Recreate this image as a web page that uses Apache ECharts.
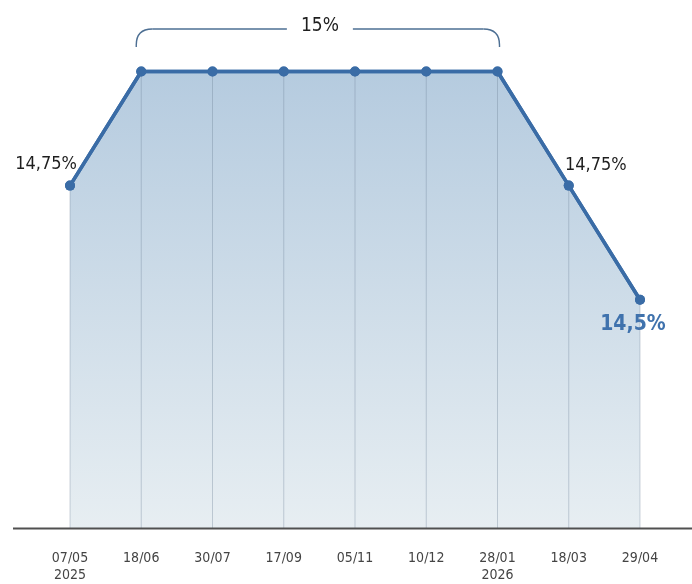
<!DOCTYPE html>
<html>
<head>
<meta charset="utf-8">
<script src="https://cdn.jsdelivr.net/npm/echarts@6/dist/echarts.min.js"></script>
<style>
    html, body { margin: 0; padding: 0; background: #fff; }
    #rateChart { width: 692px; height: 584px; }
</style>
</head>
<body>
<div id="rateChart"></div>
<script>
    const dates = ['07/05\n2025', '18/06', '30/07', '17/09', '05/11', '10/12', '28/01\n2026', '18/03', '29/04'];
    const rates = [14.75, 15, 15, 15, 15, 15, 15, 14.75, 14.5];
    const labelTexts = ['14,75%', '', '', '', '', '', '', '14,75%', '14,5%'];
    const bracketText = '15%';

    const font = '"Liberation Sans Narrow", "DejaVu Sans Condensed", "Roboto", sans-serif';
    const lineColor = '#3a6ca6';

    const chart = echarts.init(document.getElementById('rateChart'));

    // labels beside the points, each one placed a little differently
    const labelPos = {
        0: {position: 'top', offset: [-24, -2], color: '#1e1e1e', fontSize: 18},
        7: {position: 'top', offset: [27, -1], color: '#1e1e1e', fontSize: 18},
        8: {position: 'bottom', offset: [-7, 4], color: '#3f72ad', fontSize: 21, fontWeight: 'bold'}
    };

    const lineData = rates.map((v, i) => {
        const item = {value: v};
        if (labelTexts[i]) {
            item.label = Object.assign({show: true, formatter: labelTexts[i], fontFamily: font}, labelPos[i]);
        }
        return item;
    });

    const option = {
        animation: false,
        grid: {left: 70, right: 52, top: 3, bottom: 52},
        xAxis: {
            type: 'category',
            data: dates,
            boundaryGap: false,
            axisLine: {show: false},
            axisTick: {show: false},
            splitLine: {show: false},
            axisLabel: {
                interval: 0,
                margin: 22,
                color: '#444',
                fontSize: 14,
                lineHeight: 17,
                fontFamily: font
            }
        },
        yAxis: {
            type: 'value',
            min: 14,
            max: 15.15,
            show: false
        },
        series: [
            {
                type: 'line',
                data: lineData,
                symbol: 'circle',
                symbolSize: 10,
                lineStyle: {color: lineColor, width: 3.5},
                itemStyle: {color: lineColor},
                areaStyle: {
                    opacity: 1,
                    color: new echarts.graphic.LinearGradient(0, 0, 0, 1, [
                        {offset: 0, color: '#b5cbdf'},
                        {offset: 1, color: '#e7eef2'}
                    ])
                },
                z: 3
            },
            {
                // thin vertical guides under each point
                type: 'bar',
                data: rates,
                barWidth: 1,
                silent: true,
                itemStyle: {color: 'rgba(110,130,150,0.35)'},
                z: 4
            },
            {
                // points drawn again so the guides stay behind them
                type: 'line',
                data: rates,
                symbol: 'circle',
                symbolSize: 10,
                lineStyle: {color: lineColor, width: 3.5},
                itemStyle: {color: lineColor},
                silent: true,
                z: 5
            }
        ]
    };
    chart.setOption(option);

    // bracket over the 15% plateau and the baseline
    const p1 = chart.convertToPixel({xAxisIndex: 0, yAxisIndex: 0}, [1, 15]);
    const p6 = chart.convertToPixel({xAxisIndex: 0, yAxisIndex: 0}, [6, 15]);
    const base = chart.convertToPixel({yAxisIndex: 0}, 14);
    const bx1 = p1[0] - 5, bx2 = p6[0] + 2, by = 29, r = 16, low = by + 18;
    const mid = (bx1 + bx2) / 2 + 2;
    const bStyle = {fill: null, stroke: '#4d6f93', lineWidth: 1.4};
    chart.setOption({
        graphic: [
            {type: 'line', shape: {x1: bx1, y1: low, x2: bx1, y2: by + r}, style: bStyle},
            {type: 'bezierCurve', shape: {x1: bx1, y1: by + r, x2: bx1 + r, y2: by, cpx1: bx1, cpy1: by}, style: bStyle},
            {type: 'line', shape: {x1: bx1 + r, y1: by, x2: mid - 33, y2: by}, style: bStyle},
            {type: 'line', shape: {x1: mid + 33, y1: by, x2: bx2 - r, y2: by}, style: bStyle},
            {type: 'bezierCurve', shape: {x1: bx2 - r, y1: by, x2: bx2, y2: by + r, cpx1: bx2, cpy1: by}, style: bStyle},
            {type: 'line', shape: {x1: bx2, y1: by + r, x2: bx2, y2: low}, style: bStyle},
            {
                type: 'text',
                x: mid,
                y: by - 3,
                style: {text: bracketText, fill: '#1e1e1e', fontSize: 19, fontFamily: font, align: 'center', verticalAlign: 'middle'}
            },
            {
                type: 'line',
                shape: {x1: 13, y1: base + 0.5, x2: 692, y2: base + 0.5},
                style: {stroke: '#505050', lineWidth: 2},
                z: 10
            }
        ]
    });
</script>
</body>
</html>
